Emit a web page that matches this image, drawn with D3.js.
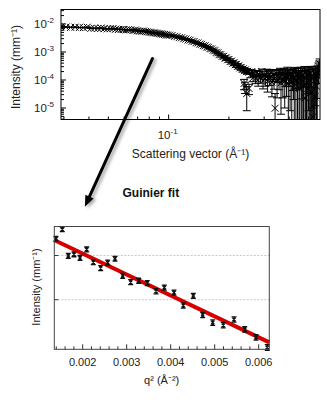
<!DOCTYPE html>
<html><head><meta charset="utf-8">
<script src="https://cdn.jsdelivr.net/npm/d3@7"></script>
<style>body{margin:0;background:#fff} text{font-family:"Liberation Sans",Arial,sans-serif;fill:#222}</style>
</head><body><svg id="c" width="327" height="417"></svg>
<script>
// ---- Top plot: scattering curve, rows [q (1/Å), I (1/mm), err]
const lowQData = [
[0.0290,7.9e-3,0.06e-3],[0.0307,7.8e-3,0.06e-3],[0.0324,7.6e-3,0.06e-3],[0.0341,7.7e-3,0.06e-3],
[0.0358,7.5e-3,0.06e-3],[0.0375,7.42e-3,0.06e-3],[0.0392,7.67e-3,0.06e-3],[0.0409,6.99e-3,0.06e-3],
[0.0426,7.03e-3,0.06e-3],[0.0443,6.94e-3,0.06e-3],[0.0460,7.15e-3,0.06e-3],[0.0477,6.84e-3,0.06e-3],
[0.0494,6.70e-3,0.06e-3],[0.0511,6.83e-3,0.06e-3],[0.0528,6.92e-3,0.06e-3],[0.0545,6.52e-3,0.06e-3],
[0.0562,6.38e-3,0.06e-3],[0.0579,6.41e-3,0.06e-3],[0.0596,6.36e-3,0.06e-3],[0.0613,6.18e-3,0.06e-3],
[0.0630,6.26e-3,0.06e-3],[0.0647,6.15e-3,0.06e-3],[0.0664,5.88e-3,0.06e-3],[0.0681,6.08e-3,0.06e-3],
[0.0698,5.69e-3,0.06e-3],[0.0715,5.54e-3,0.06e-3],[0.0732,5.49e-3,0.06e-3],[0.0749,5.60e-3,0.06e-3],
[0.0766,5.41e-3,0.06e-3],[0.0783,5.26e-3,0.06e-3],[0.0800,5.08e-3,0.06e-3],[0.0817,5.00e-3,0.06e-3],
[0.0834,4.88e-3,0.06e-3],[0.0851,4.83e-3,0.06e-3],[0.0868,4.69e-3,0.06e-3],[0.0885,4.62e-3,0.06e-3],
[0.0902,4.50e-3,0.06e-3],[0.0919,4.42e-3,0.06e-3],[0.0936,4.29e-3,0.06e-3],[0.0953,4.22e-3,0.06e-3],
[0.0970,4.08e-3,0.06e-3],[0.0987,4.02e-3,0.06e-3]
];
const midQData = [
[0.101,3.97e-3,0.14e-3],[0.104,3.88e-3,0.14e-3],[0.107,3.62e-3,0.13e-3],[0.110,3.52e-3,0.13e-3],
[0.113,3.28e-3,0.12e-3],[0.116,3.22e-3,0.12e-3],[0.119,2.98e-3,0.11e-3],[0.122,2.91e-3,0.11e-3],
[0.125,2.69e-3,0.10e-3],[0.128,2.64e-3,0.10e-3],[0.131,2.41e-3,0.095e-3],[0.134,2.36e-3,0.09e-3],
[0.137,2.15e-3,0.09e-3],[0.140,2.10e-3,0.085e-3],[0.143,1.91e-3,0.08e-3],[0.146,1.88e-3,0.08e-3],
[0.149,1.70e-3,0.075e-3],[0.152,1.66e-3,0.07e-3],[0.155,1.50e-3,0.07e-3],[0.158,1.47e-3,0.065e-3],
[0.161,1.32e-3,0.06e-3],[0.164,1.29e-3,0.06e-3],[0.167,1.16e-3,0.055e-3],[0.170,1.11e-3,0.055e-3],
[0.173,0.97e-3,0.05e-3],[0.176,0.93e-3,0.05e-3],[0.179,0.82e-3,0.045e-3],[0.182,0.80e-3,0.045e-3],
[0.185,0.70e-3,0.04e-3],[0.188,0.70e-3,0.04e-3],[0.191,0.61e-3,0.038e-3],[0.194,0.61e-3,0.036e-3],
[0.197,0.53e-3,0.034e-3],[0.200,0.54e-3,0.033e-3],[0.203,0.46e-3,0.032e-3],[0.206,0.47e-3,0.031e-3],
[0.209,0.40e-3,0.03e-3],[0.212,0.41e-3,0.03e-3],[0.215,0.35e-3,0.029e-3],[0.218,0.36e-3,0.029e-3],
[0.221,0.31e-3,0.028e-3],[0.224,0.315e-3,0.028e-3],[0.227,0.27e-3,0.027e-3],[0.230,0.28e-3,0.027e-3],
[0.233,0.24e-3,0.027e-3],[0.236,0.25e-3,0.026e-3],[0.239,0.215e-3,0.026e-3],[0.242,0.23e-3,0.026e-3],
[0.245,0.20e-3,0.026e-3],[0.248,0.205e-3,0.025e-3]
];
const highQData = [
[0.238,0.75e-4,0.3e-4],[0.2405,0.58e-4,0.25e-4],[0.2455,0.33e-4,0.25e-4],[0.252,0.5e-4,0.2e-4],
[0.252,1.9e-4,0.3e-4],[0.256,1.5e-4,0.3e-4],[0.260,2.0e-4,0.32e-4],[0.264,1.2e-4,0.33e-4],
[0.268,1.7e-4,0.35e-4],[0.272,1.1e-4,0.36e-4],[0.276,1.8e-4,0.38e-4],[0.280,1.0e-4,0.4e-4],
[0.284,1.6e-4,0.42e-4],[0.288,1.2e-4,0.43e-4],[0.292,2.0e-4,0.45e-4],[0.296,0.95e-4,0.47e-4],
[0.300,1.5e-4,0.48e-4],[0.304,1.1e-4,0.5e-4],[0.308,1.9e-4,0.52e-4],[0.312,0.9e-4,0.53e-4],
[0.316,1.6e-4,0.55e-4],[0.320,1.2e-4,0.57e-4],[0.324,1.8e-4,0.58e-4],[0.328,0.85e-4,0.6e-4],
[0.332,1.5e-4,0.62e-4],[0.336,1.1e-4,0.63e-4],[0.340,0.098e-4,0.23e-4],[0.344,1.7e-4,0.65e-4],
[0.348,0.9e-4,0.67e-4],[0.352,1.5e-4,0.68e-4],[0.356,1.15e-4,0.7e-4],[0.360,1.9e-4,0.72e-4],
[0.364,0.8e-4,0.74e-4],[0.368,1.6e-4,0.75e-4],[0.372,1.0e-4,0.77e-4],[0.376,1.8e-4,0.79e-4],
[0.380,0.9e-4,0.8e-4],[0.384,1.4e-4,0.82e-4],[0.388,1.1e-4,0.84e-4],[0.392,2.0e-4,0.86e-4],
[0.396,0.75e-4,0.88e-4],[0.400,1.5e-4,0.9e-4],[0.404,1.0e-4,0.92e-4],[0.408,1.7e-4,0.94e-4],
[0.412,0.85e-4,0.96e-4],[0.416,1.4e-4,0.98e-4],[0.420,1.2e-4,1.0e-4],[0.424,0.6e-4,0.8e-4],
[0.428,1.8e-4,1.02e-4],[0.432,1.0e-4,1.04e-4],[0.436,1.5e-4,1.06e-4],[0.440,0.8e-4,1.08e-4],
[0.444,1.6e-4,1.1e-4],[0.448,1.1e-4,1.12e-4],[0.452,0.5e-4,0.9e-4],[0.456,1.7e-4,1.15e-4],
[0.460,1.0e-4,1.17e-4],[0.464,1.4e-4,1.19e-4],[0.468,0.9e-4,1.2e-4],[0.472,0.6e-4,0.6e-4],
[0.476,1.8e-4,1.22e-4],[0.480,0.23e-4,0.5e-4],[0.484,1.2e-4,1.24e-4],[0.488,0.8e-4,1.26e-4],
[0.492,1.6e-4,1.28e-4],[0.496,0.5e-4,1.3e-4],[0.500,1.4e-4,1.32e-4],[0.504,1.0e-4,1.34e-4],
[0.508,1.7e-4,1.36e-4],[0.512,0.7e-4,1.38e-4],[0.516,0.35e-4,1.2e-4],[0.520,1.5e-4,1.4e-4],
[0.524,0.048e-4,0.5e-4],[0.528,1.2e-4,1.42e-4],[0.532,0.9e-4,1.44e-4],[0.536,0.25e-4,1.3e-4],
[0.540,1.6e-4,1.48e-4],[0.544,1.1e-4,1.5e-4],[0.548,0.6e-4,1.52e-4],[0.552,1.4e-4,1.55e-4],
[0.556,1.8e-4,1.58e-4],[0.560,2.4e-4,1.65e-4],[0.564,3.0e-4,1.75e-4],[0.568,3.8e-4,1.85e-4]
];
const topYTicks = [1e-2, 1e-3, 1e-4, 1e-5];
const topYTickExp = ["-2", "-3", "-4", "-5"];
const topXTicks = [0.1];
const topXTickExp = ["-1"];

// ---- Bottom plot: Guinier region, rows [q^2 (1/Å^2), I (1/mm), err]
const guinierData = [
[0.001393,7.42e-3,0.06e-3],[0.001536,7.67e-3,0.06e-3],[0.001673,6.99e-3,0.06e-3],[0.001802,7.03e-3,0.06e-3],
[0.001939,6.94e-3,0.06e-3],[0.002091,7.15e-3,0.06e-3],[0.002241,6.84e-3,0.058e-3],[0.002409,6.70e-3,0.058e-3],
[0.002568,6.83e-3,0.058e-3],[0.002734,6.92e-3,0.058e-3],[0.002909,6.52e-3,0.056e-3],[0.003091,6.38e-3,0.056e-3],
[0.003273,6.41e-3,0.056e-3],[0.003468,6.36e-3,0.055e-3],[0.003666,6.18e-3,0.055e-3],[0.003855,6.26e-3,0.055e-3],
[0.004075,6.15e-3,0.054e-3],[0.004286,5.88e-3,0.054e-3],[0.004514,6.08e-3,0.054e-3],[0.004727,5.69e-3,0.052e-3],
[0.004955,5.54e-3,0.052e-3],[0.005195,5.49e-3,0.052e-3],[0.005439,5.60e-3,0.05e-3],[0.005682,5.41e-3,0.05e-3],
[0.005939,5.26e-3,0.05e-3],[0.006195,5.08e-3,0.05e-3]
];
const fitQ2 = [0.00135, 0.00624];
const fitI = [7.39e-3, 5.17e-3];
const lowXTicks = [0.002, 0.003, 0.004, 0.005, 0.006];
const lowXTickLabels = ["0.002", "0.003", "0.004", "0.005", "0.006"];
const lowGrid = [6e-3, 7e-3];

const svg = d3.select("#c");
svg.append("rect").attr("width",327).attr("height",417).attr("fill","#fff");

// ===== TOP PLOT =====
const T = {l:61, r:320, t:9.5, b:119.5};
const xTop = d3.scaleLog().domain([0.029, 0.57]).range([T.l, T.r]);
const yTop = d3.scaleLog().domain([Math.pow(10,-5.411), Math.pow(10,-1.482)]).range([T.b, T.t]);

const defs = svg.append("defs");
defs.append("clipPath").attr("id","clipTop").append("rect")
  .attr("x",T.l).attr("y",T.t).attr("width",T.r-T.l).attr("height",T.b-T.t);
const f = defs.append("filter").attr("id","shadow").attr("x","-50%").attr("y","-50%").attr("width","200%").attr("height","200%");
f.append("feDropShadow").attr("dx",2.5).attr("dy",1.5).attr("stdDeviation",1.6).attr("flood-color","#000").attr("flood-opacity",0.35);

const gTop = svg.append("g").attr("clip-path","url(#clipTop)");
const allTop = lowQData.concat(midQData, highQData);
const yFloor = 1e-8;
allTop.forEach(([q, I, e]) => {
  const x = xTop(q), y = yTop(I);
  const yHi = yTop(I + e), yLo = yTop(Math.max(I - e, yFloor));
  const cw = 4, m = 3.5;
  gTop.append("path")
    .attr("d", `M${x},${yHi}L${x},${yLo}M${x-cw},${yHi}L${x+cw},${yHi}M${x-cw},${yLo}L${x+cw},${yLo}` +
               `M${x-m},${y-m}L${x+m},${y+m}M${x-m},${y+m}L${x+m},${y-m}`)
    .attr("stroke","#000").attr("stroke-width",1).attr("fill","none");
});

// top frame
svg.append("rect").attr("x",T.l).attr("y",T.t).attr("width",T.r-T.l).attr("height",T.b-T.t)
  .attr("fill","none").attr("stroke","#000").attr("stroke-width",1);

// top y ticks (inward)
yTop.ticks(20).forEach(v => {
  const isMajor = topYTicks.some(t => Math.abs(t - v) / t < 1e-6);
  const y = yTop(v);
  if (y < T.t || y > T.b) return;
  svg.append("line").attr("x1",T.l).attr("x2",T.l + (isMajor ? 5 : 3))
    .attr("y1",y).attr("y2",y).attr("stroke","#000").attr("stroke-width",1);
});
topYTicks.forEach((v, i) => {
  const t = svg.append("text").attr("x", T.l - 7).attr("y", yTop(v) + 4)
    .attr("text-anchor","end").attr("font-size",11.5);
  t.append("tspan").text("10");
  t.append("tspan").attr("font-size",8).attr("dy",-5).text(topYTickExp[i]);
});
// top x ticks
xTop.ticks(20).forEach(v => {
  const isMajor = topXTicks.some(t => Math.abs(t - v) / t < 1e-6);
  const x = xTop(v);
  if (x < T.l || x > T.r) return;
  svg.append("line").attr("x1",x).attr("x2",x).attr("y1",T.b).attr("y2",T.b - (isMajor ? 5 : 3))
    .attr("stroke","#000").attr("stroke-width",1);
});
topXTicks.forEach((v, i) => {
  const t = svg.append("text").attr("x", xTop(v) - 1).attr("y", 138.5)
    .attr("text-anchor","middle").attr("font-size",11.5);
  t.append("tspan").text("10");
  t.append("tspan").attr("font-size",8).attr("dy",-5).text(topXTickExp[i]);
});
svg.append("text").attr("x",190.5).attr("y",157.5).attr("text-anchor","middle")
  .attr("font-size",12).text("Scattering vector (Å⁻¹)");
svg.append("text").attr("transform","translate(19.5,67) rotate(-90)").attr("text-anchor","middle")
  .attr("font-size",12).text("Intensity (mm⁻¹)");

// ===== BOTTOM PLOT =====
const B = {l:54.3, r:269.3, t:226.5, b:349.3};
const xLow = d3.scaleLinear().domain([0.001355, 0.006241]).range([B.l, B.r]);
const yLow = d3.scaleLog().domain([5.047e-3, 7.745e-3]).range([B.b, B.t]);

lowGrid.forEach(v => {
  svg.append("line").attr("x1",B.l).attr("x2",B.r).attr("y1",yLow(v)).attr("y2",yLow(v))
    .attr("stroke","#c8c8c8").attr("stroke-width",1).attr("stroke-dasharray","2,1.5");
  svg.append("line").attr("x1",B.l).attr("x2",B.l + 4).attr("y1",yLow(v)).attr("y2",yLow(v))
    .attr("stroke","#333").attr("stroke-width",1);
});

// fit line
svg.append("path").datum(fitQ2.map((q, i) => [q, fitI[i]]))
  .attr("d", d3.line().x(d => xLow(d[0])).y(d => yLow(d[1])))
  .attr("stroke","#d40000").attr("stroke-width",4).attr("fill","none");

// points
guinierData.forEach(([q2, I, e]) => {
  const x = xLow(q2), y = yLow(I), yHi = yLow(I + e), yLo = yLow(I - e);
  const cw = 2.5, m = 1.6;
  svg.append("path")
    .attr("d", `M${x},${yHi}L${x},${yLo}M${x-cw},${yHi}L${x+cw},${yHi}M${x-cw},${yLo}L${x+cw},${yLo}` +
               `M${x-m},${y-m}L${x+m},${y+m}M${x-m},${y+m}L${x+m},${y-m}`)
    .attr("stroke","#111").attr("stroke-width",1.3).attr("fill","none");
});

// frame
svg.append("rect").attr("x",B.l).attr("y",B.t).attr("width",B.r-B.l).attr("height",B.b-B.t)
  .attr("fill","none").attr("stroke","#444").attr("stroke-width",1);

// x ticks every 0.0002, major at lowXTicks
d3.range(14, 63, 2).map(k => k / 10000).forEach(v => {
  const isMajor = lowXTicks.some(t => Math.abs(t - v) < 1e-9);
  const x = xLow(v);
  if (x < B.l || x > B.r) return;
  svg.append("line").attr("x1",x).attr("x2",x).attr("y1",B.b).attr("y2",B.b - (isMajor ? 5 : 3))
    .attr("stroke","#333").attr("stroke-width",1);
});
lowXTicks.forEach((v, i) => {
  svg.append("text").attr("x", xLow(v)).attr("y", 365.5).attr("text-anchor","middle")
    .attr("font-size",11).text(lowXTickLabels[i]);
});
svg.append("text").attr("x",161.7).attr("y",384).attr("text-anchor","middle")
  .attr("font-size",11).text("q² (Å⁻²)");
svg.append("text").attr("transform","translate(40,287) rotate(-90)").attr("text-anchor","middle")
  .attr("font-size",11).text("Intensity (mm⁻¹)");

// ===== Annotation arrow (from top-plot data coords to bottom-plot coords) =====
const arrowFrom = {q: 0.0831, I: 5.86e-4};
const arrowTo = {q2: 0.00205, I: 8.3e-3};
const p0 = [xTop(arrowFrom.q), yTop(arrowFrom.I)];
const p1 = [xLow(arrowTo.q2), yLow(arrowTo.I)];
const dx = p1[0] - p0[0], dy = p1[1] - p0[1], L = Math.hypot(dx, dy), ux = dx / L, uy = dy / L;
const hl = 11, hw = 4.5;
const base = [p1[0] - ux * hl, p1[1] - uy * hl];
const ga = svg.append("g").attr("filter","url(#shadow)");
ga.append("line").attr("x1",p0[0]).attr("y1",p0[1]).attr("x2",base[0] + ux * 2).attr("y2",base[1] + uy * 2)
  .attr("stroke","#000").attr("stroke-width",3).attr("stroke-linecap","round");
ga.append("path").attr("d",
  `M${p1[0]},${p1[1]}L${base[0] - uy * hw},${base[1] + ux * hw}L${base[0] + uy * hw},${base[1] - ux * hw}Z`)
  .attr("fill","#000");

svg.append("text").attr("x",122.5).attr("y",196.5).attr("font-size",12).attr("font-weight","bold")
  .style("fill","#111").text("Guinier fit");
</script></body></html>
